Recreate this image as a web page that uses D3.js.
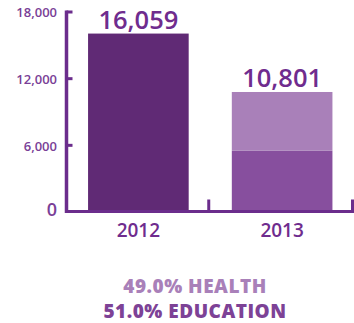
<!DOCTYPE html>
<html>
<head>
<meta charset="utf-8">
<script src="https://cdn.jsdelivr.net/npm/d3@7"></script>
<style>
  html, body { margin: 0; padding: 0; background: #fff; }
  svg { display: block; font-family: "Open Sans", sans-serif; }
</style>
</head>
<body>
<svg id="chart" width="354" height="323"></svg>
<script>
// Funding totals by year, with the 2013 split by sector
const years = ["2012", "2013"];
const totals = [16059, 10801];
const sectors = ["EDUCATION", "HEALTH"];
const sectorShares2013 = [51.0, 49.0];   // percent of the 2013 total
const yTicks = [0, 6000, 12000, 18000];

const colors = {
  bar2012: "#602a75",
  education: "#874f9e",
  health: "#a980b9",
  axis: "#6b2d8c",
  text: "#6f2c8e",
  tick: "#7a3f97"
};

const svg = d3.select("#chart");
const fmt = d3.format(",");

const y = d3.scaleLinear().domain([0, 18000]).range([212, 12]);
const x = d3.scaleBand().domain(years).range([66.5, 354])
  .paddingInner(0.3).paddingOuter(0.15);

// Build stacked segments: 2012 as one block, 2013 as education + health
const segments = [];
segments.push({ year: years[0], y0: 0, y1: totals[0], fill: colors.bar2012 });
let acc = 0;
sectors.forEach((s, i) => {
  const v = totals[1] * sectorShares2013[i] / 100;
  segments.push({ year: years[1], y0: acc, y1: acc + v,
    fill: s === "EDUCATION" ? colors.education : colors.health });
  acc += v;
});

svg.append("g").selectAll("rect").data(segments).join("rect")
  .attr("x", d => x(d.year))
  .attr("width", x.bandwidth())
  .attr("y", d => y(d.y1))
  .attr("height", d => y(d.y0) - y(d.y1))
  .attr("fill", d => d.fill);

// Value labels above bars
svg.append("g").selectAll("text").data(years).join("text")
  .attr("x", d => x(d) + x.bandwidth() / 2)
  .attr("y", (d, i) => y(totals[i]) - 5)
  .attr("text-anchor", "middle")
  .attr("font-size", 25.5)
  .attr("font-weight", 600)
  .attr("fill", colors.text)
  .text((d, i) => fmt(totals[i]));

// Axes
const ax = svg.append("g").attr("stroke", colors.axis).attr("fill", "none");
const x0 = x.range()[0];
const baseY = 211.5;
ax.append("line").attr("x1", x0).attr("x2", x0)
  .attr("y1", y(18000) - 1.5).attr("y2", baseY + 1.5).attr("stroke-width", 3.5);
ax.append("line").attr("x1", x0 - 1.5).attr("x2", 354)
  .attr("y1", baseY).attr("y2", baseY).attr("stroke-width", 3);
// y ticks pointing inward
ax.selectAll(".yt").data(yTicks.filter(d => d > 0)).join("line")
  .attr("x1", x0).attr("x2", x0 + 6)
  .attr("y1", d => y(d)).attr("y2", d => y(d)).attr("stroke-width", 3);
// x ticks on band boundaries
const step = x.step();
const bounds = [1, 2].map(i => x0 + i * step - 1.5);
ax.selectAll(".xt").data(bounds).join("line")
  .attr("x1", d => d).attr("x2", d => d)
  .attr("y1", baseY - 12).attr("y2", baseY).attr("stroke-width", 3);

// y tick labels
svg.append("g").selectAll("text").data(yTicks).join("text")
  .attr("x", 57)
  .attr("y", d => y(d))
  .attr("dy", d => d === 0 ? "0.2em" : "0.42em")
  .attr("text-anchor", "end")
  .attr("font-size", d => d === 0 ? 18 : 13)
  .attr("font-weight", 600)
  .attr("fill", colors.tick)
  .text(d => fmt(d));

// Year labels
svg.append("g").selectAll("text").data(years).join("text")
  .attr("x", d => x(d) + x.bandwidth() / 2)
  .attr("y", 236.5)
  .attr("text-anchor", "middle")
  .attr("font-size", 19)
  .attr("font-weight", 600)
  .attr("fill", colors.text)
  .text(d => d);

// Sector share legend
const legend = [
  { label: sectorShares2013[1].toFixed(1) + "% " + sectors[1], fill: colors.health, yPos: 292.5 },
  { label: sectorShares2013[0].toFixed(1) + "% " + sectors[0], fill: "#7d4296", yPos: 317.5 }
];
svg.append("g").selectAll("text").data(legend).join("text")
  .attr("x", 195)
  .attr("y", d => d.yPos)
  .attr("text-anchor", "middle")
  .attr("font-size", 19)
  .attr("font-weight", 800)
  .attr("letter-spacing", 0.5)
  .attr("fill", d => d.fill)
  .text(d => d.label);
</script>
</body>
</html>
